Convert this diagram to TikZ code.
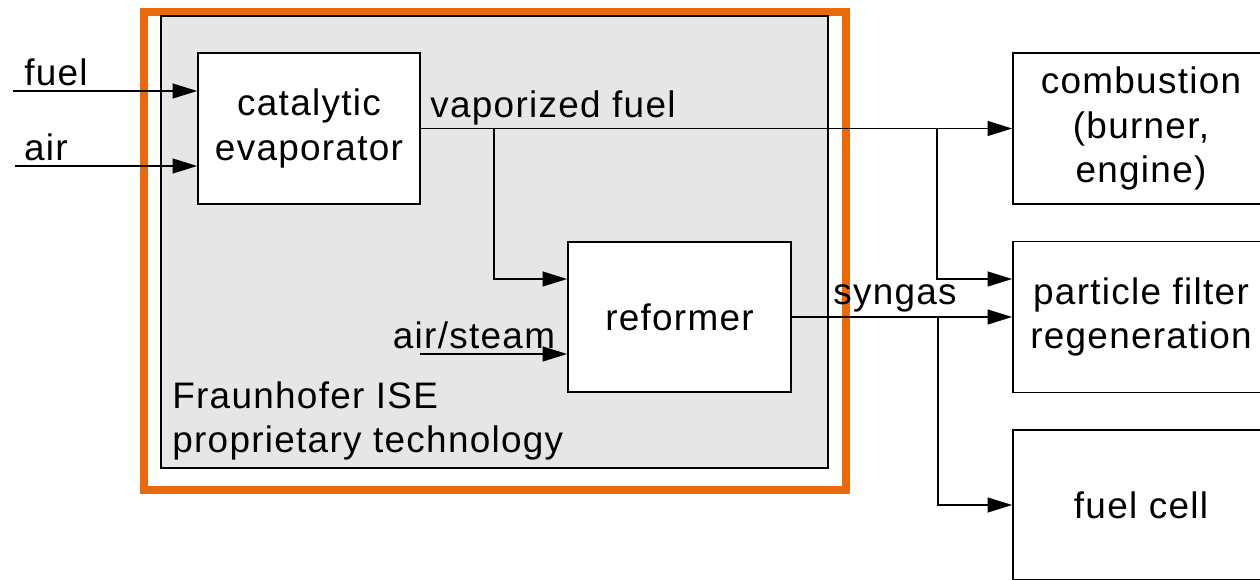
\documentclass[tikz,border=0pt]{standalone}
\usepackage{fontspec}
\setmainfont[LetterSpace=3.5]{Liberation Sans}
\usepackage{tikz}
\usetikzlibrary{arrows.meta,positioning,calc}
\definecolor{iseorange}{RGB}{232,106,12}
\definecolor{isegray}{RGB}{230,230,230}
\tikzstyle{block}=[draw,fill=white,line width=1pt,align=center,inner sep=0pt,
  minimum width=4.44cm,minimum height=3.02cm,font=\fontsize{21}{25.5}\selectfont]
\tikzstyle{lbl}=[inner sep=0pt,font=\fontsize{21}{25.5}\selectfont]
\tikzstyle{flow}=[line width=0.8pt,-{Triangle[length=14pt,width=8.5pt]}]

\begin{document}
\begin{tikzpicture}[x=0.02cm,y=-0.02cm]
\clip (0,0) rectangle (1260,580);
% proprietary part
\node [draw=iseorange,line width=4.5pt,minimum width=14.04cm,minimum height=9.56cm] (frame) at (495,251) {};
\node [draw,fill=isegray,line width=0.8pt,minimum width=13.34cm,minimum height=9.04cm] (ise) at (494.5,242) {};
\node [lbl,anchor=west,align=left] (isetext) at (172,421) {Fraunhofer ISE\\proprietary technology};

\node [block] (evap) at (309,128.5) {catalytic\\evaporator};
\node [block,minimum width=4.46cm,minimum height=3cm] (ref) at (679.5,317) {reformer};

% applications
\node [block,minimum width=5.12cm] (comb) at (1141,128.5) {combustion\\(burner,\\engine)};
\node [block,minimum width=5.12cm] (filter) at (1141,317) {particle filter\\regeneration};
\node [block,minimum width=5.12cm,minimum height=3cm] (cell) at (1141,505) {fuel cell};

% inputs
\coordinate (fuelin) at (13,91);
\coordinate (airin) at (15,166);
\coordinate (steamin) at (420,354);
\node [lbl] (fuel) at (56,72) {fuel};
\node [lbl] (air) at (46,147) {air};
\node [lbl] (steam) at (474,335) {air/steam};
\draw [flow] (fuelin) -- (fuelin -| evap.west);
\draw [flow] (airin) -- (airin -| evap.west);
\draw [flow] (steamin) -- (steamin -| ref.west);

% vaporized fuel
\node [lbl] (vap) at (553,108) {vaporized fuel};
\coordinate (j1) at (494,128.5);
\coordinate (j2) at (937,128.5);
\draw [flow] (evap.east) -- (comb.west);
\draw [flow] (j1) |- ([yshift=0.76cm]ref.west);
\draw [flow] (j2) |- ([yshift=0.76cm]filter.west);

% syngas
\node [lbl] (syn) at (895,298) {syngas};
\coordinate (j3) at (938,317);
\draw [flow] (ref.east) -- (filter.west);
\draw [flow] (j3) |- (cell.west);
\end{tikzpicture}
\end{document}
